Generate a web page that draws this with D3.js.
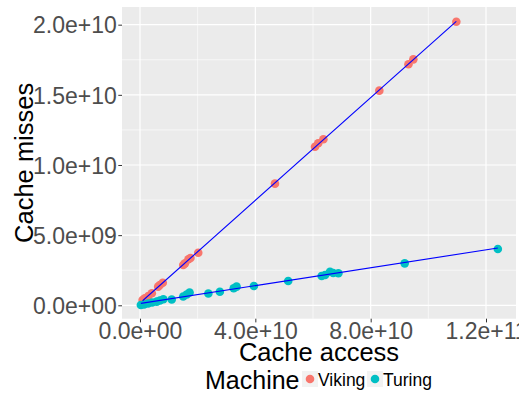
<!DOCTYPE html>
<html><head><meta charset="utf-8">
<script src="https://cdn.jsdelivr.net/npm/d3@7"></script>
<style>
html,body{margin:0;padding:0;background:#fff;}
svg{display:block;font-family:"Liberation Sans",Arial,sans-serif;}
</style></head>
<body>
<svg id="chart" width="519" height="394"></svg>
<script>
// Data (Cache access, Cache misses)
const vikingAccess = [0.09e10,0.17e10,0.29e10,0.41e10,0.63e10,0.69e10,0.79e10,1.50e10,1.56e10,1.68e10,1.75e10,2.02e10,4.68e10,6.07e10,6.18e10,6.36e10,8.30e10,9.31e10,9.48e10,10.97e10];
const vikingMisses = [0.38e9,0.50e9,0.66e9,0.86e9,1.33e9,1.45e9,1.61e9,2.87e9,2.99e9,3.28e9,3.37e9,3.75e9,8.67e9,11.30e9,11.55e9,11.83e9,15.30e9,17.18e9,17.53e9,20.21e9];
const turingAccess = [0.03e10,0.14e10,0.28e10,0.42e10,0.58e10,0.69e10,0.81e10,1.10e10,1.50e10,1.62e10,1.72e10,2.37e10,2.77e10,3.25e10,3.35e10,3.95e10,5.14e10,6.30e10,6.42e10,6.59e10,6.70e10,6.88e10,9.18e10,12.41e10];
const turingMisses = [0.02e9,0.06e9,0.13e9,0.20e9,0.26e9,0.34e9,0.43e9,0.41e9,0.63e9,0.77e9,0.91e9,0.84e9,0.97e9,1.22e9,1.33e9,1.38e9,1.73e9,2.09e9,2.16e9,2.39e9,2.30e9,2.28e9,2.99e9,4.01e9];
const machines = ["Viking","Turing"];
const colors = ["#F8766D","#00BFC4"];
const xTicks = [0, 4e10, 8e10, 1.2e11];
const xTickLabels = ["0.0e+00","4.0e+10","8.0e+10","1.2e+11"];
const yTicks = [0, 5e9, 1e10, 1.5e10, 2e10];
const yTickLabels = ["0.0e+00","5.0e+09","1.0e+10","1.5e+10","2.0e+10"];
const xMinor = [2e10, 6e10, 1e11];
const yMinor = [2.5e9, 7.5e9, 1.25e10, 1.75e10];

const svg = d3.select("#chart");
const P = {l:122, r:516, t:7, b:318.7};
const x = d3.scaleLinear().domain([-0.624e10, 13.04e10]).range([P.l, P.r]);
const y = d3.scaleLinear().domain([-0.955e9, 21.26e9]).range([P.b, P.t]);

svg.append("rect").attr("x",P.l).attr("y",P.t).attr("width",P.r-P.l).attr("height",P.b-P.t).attr("fill","#EBEBEB");
const g = svg.append("g");
xMinor.forEach(v=>g.append("line").attr("x1",x(v)).attr("x2",x(v)).attr("y1",P.t).attr("y2",P.b).attr("stroke","#fff").attr("stroke-width",0.6));
yMinor.forEach(v=>g.append("line").attr("y1",y(v)).attr("y2",y(v)).attr("x1",P.l).attr("x2",P.r).attr("stroke","#fff").attr("stroke-width",0.6));
xTicks.forEach(v=>g.append("line").attr("x1",x(v)).attr("x2",x(v)).attr("y1",P.t).attr("y2",P.b).attr("stroke","#fff").attr("stroke-width",1.2));
yTicks.forEach(v=>g.append("line").attr("y1",y(v)).attr("y2",y(v)).attr("x1",P.l).attr("x2",P.r).attr("stroke","#fff").attr("stroke-width",1.2));

// axes
const xAxis = d3.axisBottom(x).tickValues(xTicks).tickFormat((d,i)=>xTickLabels[i]).tickSize(3.7).tickPadding(1);
const yAxis = d3.axisLeft(y).tickValues(yTicks).tickFormat((d,i)=>yTickLabels[i]).tickSize(3.7).tickPadding(1.5);
const gx = svg.append("g").attr("transform",`translate(0,${P.b})`).call(xAxis);
const gy = svg.append("g").attr("transform",`translate(${P.l},0)`).call(yAxis);
[gx,gy].forEach(a=>{
  a.select(".domain").remove();
  a.selectAll(".tick line").attr("stroke","#333333").attr("stroke-width",1);
  a.selectAll(".tick text").attr("fill","#4D4D4D").attr("font-size",23).attr("font-family","'Liberation Sans',Arial,sans-serif");
});
gy.selectAll(".tick text").attr("dy","0.36em");
gx.selectAll(".tick text").attr("dy","0.68em");

// points
const series = [
  {name:machines[0], xs:vikingAccess, ys:vikingMisses, color:colors[0]},
  {name:machines[1], xs:turingAccess, ys:turingMisses, color:colors[1]}
];
series.forEach(s=>{
  svg.append("g").selectAll("circle").data(s.xs.map((v,i)=>[v,s.ys[i]])).join("circle")
    .attr("cx",d=>x(d[0])).attr("cy",d=>y(d[1])).attr("r",4.3).attr("fill",s.color);
});
// linear fits
series.forEach(s=>{
  const n = s.xs.length, mx = d3.mean(s.xs), my = d3.mean(s.ys);
  let sxy=0, sxx=0;
  for(let i=0;i<n;i++){ sxy += (s.xs[i]-mx)*(s.ys[i]-my); sxx += (s.xs[i]-mx)**2; }
  const b = sxy/sxx, a = my - b*mx;
  const x0 = d3.min(s.xs), x1 = d3.max(s.xs);
  svg.append("line").attr("x1",x(x0)).attr("y1",y(a+b*x0)).attr("x2",x(x1)).attr("y2",y(a+b*x1))
    .attr("stroke","#0000FF").attr("stroke-width",1.1);
});

// titles
svg.append("text").attr("x",(P.l+P.r)/2).attr("y",361).attr("text-anchor","middle").attr("font-size",25.5).attr("fill","#000").text("Cache access");
svg.append("text").attr("transform",`translate(33,${(P.t+P.b)/2}) rotate(-90)`).attr("text-anchor","middle").attr("font-size",25.5).attr("fill","#000").text("Cache misses");

// legend
const lg = svg.append("g");
lg.append("text").attr("x",205).attr("y",389).attr("font-size",25).attr("fill","#000").text("Machine");
const keyX = [310, 375];
machines.forEach((m,i)=>{
  lg.append("rect").attr("x",keyX[i]-8).attr("y",371).attr("width",16).attr("height",16).attr("fill","#F2F2F2");
  lg.append("circle").attr("cx",keyX[i]).attr("cy",379).attr("r",4.3).attr("fill",colors[i]);
  lg.append("text").attr("x",keyX[i]+8).attr("y",385.5).attr("font-size",17.5).attr("fill","#000").text(m);
});
</script>
</body></html>
